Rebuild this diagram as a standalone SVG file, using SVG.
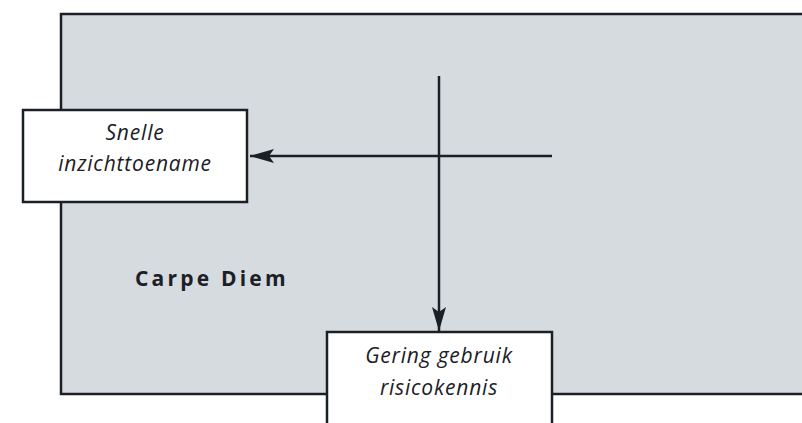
<svg xmlns="http://www.w3.org/2000/svg" width="802" height="423" viewBox="0 0 802 423">
<style>
.frame{fill:#d6dbe0;stroke:#1b2026;stroke-width:2.5}
.box{fill:#ffffff;stroke:#1b2026;stroke-width:2.5}
.lbl{font-family:"Open Sans","DejaVu Sans",sans-serif;font-style:italic;font-size:21px;letter-spacing:0.8px;fill:#1b2026;text-anchor:middle}
.title{font-family:"Open Sans","DejaVu Sans",sans-serif;font-weight:bold;font-size:21px;letter-spacing:3.2px;fill:#1b2026}
.conn{stroke:#1b2026;stroke-width:2.5;fill:none}
</style>
<defs>
<marker id="ah" viewBox="0 0 24 14" refX="24" refY="7" markerWidth="24" markerHeight="14" markerUnits="userSpaceOnUse" orient="auto">
<path d="M0,0 L24,7 L0,14 L5,7 Z" fill="#1b2026"/>
</marker>
</defs>
<g id="frame">
<rect class="frame" x="61" y="14" width="760" height="380"/>
<text class="title" x="135" y="286">Carpe Diem</text>
</g>
<g id="connectors">
<line class="conn" x1="552" y1="156" x2="250" y2="156" marker-end="url(#ah)"/>
<line class="conn" x1="439" y1="76" x2="439" y2="331" marker-end="url(#ah)"/>
</g>
<g id="node-snelle">
<rect class="box" x="23" y="110" width="224" height="92"/>
<text class="lbl" x="135" y="140">Snelle</text>
<text class="lbl" x="135" y="171">inzichttoename</text>
</g>
<g id="node-gering">
<rect class="box" x="327" y="332" width="225" height="110"/>
<text class="lbl" x="439" y="363">Gering gebruik</text>
<text class="lbl" x="439" y="395">risicokennis</text>
</g>
</svg>
